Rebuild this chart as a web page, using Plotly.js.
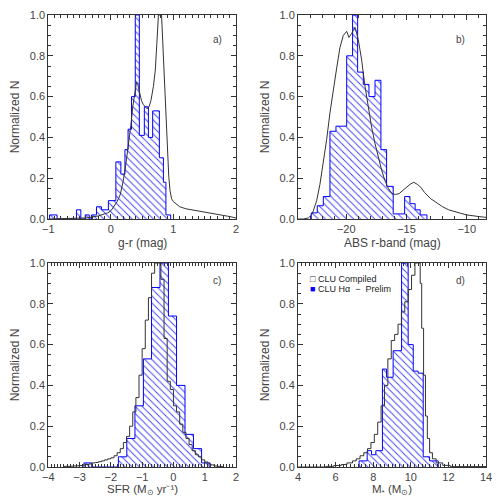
<!DOCTYPE html>
<html>
<head>
<meta charset="utf-8">
<script src="https://cdn.plot.ly/plotly-3.0.1.min.js"></script>
<style>html,body{margin:0;padding:0;background:#fff}#plot{width:500px;height:500px}</style>
</head>
<body>
<div id="plot"></div>
<script>
// ---------- Panel a: g-r ----------
var edgesA   = [-0.98,-0.86,-0.55,-0.48,-0.41,-0.345,-0.31,-0.23,-0.15,-0.04,0.08,0.16,0.225,0.275,0.33,0.39,0.455,0.535,0.60,0.668,0.775,0.84,0.88,0.956];
var heightsA = [0.02,0,0.045,0,0.02,0,0.02,0.06,0.045,0.09,0.28,0.22,0.34,0.44,0.60,1.0,0.41,0.55,0.40,0.53,0.30,0.18,0.02];
var grayAx = [-1.0,-0.6,-0.4,-0.3,-0.2,-0.1,-0.05,0.0,0.05,0.1,0.15,0.2,0.24,0.28,0.32,0.35,0.38,0.41,0.43,0.46,0.49,0.52,0.55,0.58,0.61,0.64,0.68,0.71,0.735,0.76,0.81,0.83,0.85,0.87,0.88,0.90,0.925,0.945,0.97,1.0,1.05,1.1,1.2,1.3,1.4,1.5,1.6,1.7,1.8,1.9,2.0];
var grayAy = [0.0,0.002,0.005,0.01,0.015,0.025,0.03,0.04,0.06,0.085,0.12,0.19,0.27,0.36,0.46,0.55,0.62,0.67,0.66,0.62,0.58,0.56,0.55,0.54,0.55,0.58,0.65,0.73,0.86,1.0,1.0,0.86,0.70,0.58,0.50,0.34,0.21,0.14,0.10,0.085,0.07,0.06,0.05,0.045,0.04,0.035,0.03,0.025,0.02,0.012,0.005];

// ---------- Panel b: ABS r-band ----------
var edgesB   = [-22.9,-22.4,-21.9,-21.35,-20.85,-19.96,-19.47,-19.05,-18.58,-18.11,-17.61,-17.12,-16.65,-16.1,-15.15,-14.71,-14.28,-13.86,-13.3];
var heightsB = [0.03,0.065,0.11,0.43,0.455,0.80,1.0,0.72,0.66,0.60,0.68,0.34,0.16,0.025,0.11,0.075,0.045,0.02];
var grayBx = [-24,-23.56,-23.15,-22.88,-22.73,-22.45,-22.18,-21.9,-21.62,-21.35,-21.07,-20.79,-20.52,-20.24,-19.96,-19.77,-19.55,-19.27,-19.0,-18.72,-18.44,-18.17,-17.89,-17.61,-17.34,-17.06,-16.8,-16.5,-16.2,-15.9,-15.6,-15.3,-15.0,-14.7,-14.4,-14.1,-13.8,-13.5,-13.0,-12.5,-12.0,-11.5,-11.0,-10.5,-10.0,-9.5,-9.0,-8.4];
var grayBy = [0,0,0.005,0.02,0.04,0.09,0.17,0.27,0.39,0.52,0.64,0.74,0.84,0.90,0.92,0.89,0.91,0.94,0.88,0.78,0.65,0.55,0.45,0.37,0.30,0.24,0.19,0.15,0.125,0.12,0.125,0.14,0.155,0.17,0.18,0.17,0.155,0.13,0.10,0.08,0.06,0.045,0.035,0.028,0.02,0.015,0.012,0.008];

// ---------- Panel c: SFR ----------
var edgesC   = [-2.86,-2.61,-1.76,-1.49,-1.23,-0.96,-0.70,-0.43,-0.16,0.10,0.37,0.64,0.90,1.17];
var heightsC = [0.02,0,0.05,0.14,0.30,0.53,0.88,1.0,0.74,0.40,0.16,0.09,0.02];
var grayCx = [-3.5,-3.4,-3.3,-3.2,-3.1,-3.0,-2.9,-2.8,-2.7,-2.6,-2.5,-2.4,-2.3,-2.2,-2.1,-2.0,-1.9,-1.8,-1.7,-1.6,-1.5,-1.4,-1.3,-1.2,-1.1,-1.0,-0.9,-0.8,-0.7,-0.6,-0.5,-0.4,-0.3,-0.2,-0.1,0.0,0.1,0.2,0.3,0.4,0.5,0.6,0.7,0.8,0.9,1.0,1.1,1.2,1.3,1.4,1.5,1.6];
var grayCy = [0.003,0.003,0.004,0.005,0.006,0.007,0.01,0.012,0.015,0.02,0.022,0.026,0.03,0.035,0.04,0.045,0.055,0.07,0.09,0.12,0.15,0.20,0.27,0.34,0.45,0.58,0.72,0.83,0.95,1.0,1.0,0.92,0.63,0.42,0.38,0.30,0.27,0.21,0.17,0.14,0.11,0.08,0.06,0.05,0.035,0.025,0.015,0.01,0.005,0.003,0.002,0];

// ---------- Panel d: stellar mass ----------
var edgesD   = [7.25,7.68,7.91,8.14,8.49,8.71,9.06,9.51,9.86,10.13,10.39,10.66,11.0,11.46];
var heightsD = [0.03,0.08,0.06,0.08,0.48,0.44,0.57,1.0,0.60,0.47,0.46,0.05,0.03];
var grayDx = [4,5.5,5.9,6.3,6.6,6.9,7.1,7.3,7.5,7.7,7.88,8.06,8.24,8.42,8.6,8.78,8.96,9.14,9.32,9.5,9.68,9.86,10.04,10.22,10.5,10.58,10.68,10.78,10.88,11.0,11.15,11.35,11.7,12.1,14];
var grayDy = [0,0.003,0.007,0.012,0.02,0.03,0.04,0.055,0.07,0.09,0.12,0.16,0.22,0.30,0.40,0.53,0.62,0.65,0.70,0.76,0.81,0.87,0.94,1.0,0.9,0.68,0.45,0.25,0.14,0.07,0.04,0.02,0.008,0.002,0];

var seriesNames = ['CLU Compiled', 'CLU H\u03b1  \u2212  Prelim'];
var panelLabels = ['a)', 'b)', 'c)', 'd)'];
var xTitles = ['g-r (mag)', 'ABS r-band (mag)', 'SFR (M<sub>\u2299</sub> yr\u207b\u00b9)', 'M<sub>*</sub> (M<sub>\u2299</sub>)'];

var BLUE = '#0000ff';
var GRAY = '#333333';

function hatched(edges, heights, xa, ya) {
  var x = [edges[0]].concat(edges);
  var y = [0].concat(heights).concat([0]);
  return {
    x: x, y: y, xaxis: xa, yaxis: ya, type: 'scatter', mode: 'lines',
    line: {shape: 'hv', color: BLUE, width: 1},
    fill: 'tozeroy', fillcolor: 'rgba(0,0,0,0)',
    fillpattern: {shape: '\\', fgcolor: '#3a3aff', bgcolor: 'rgba(255,255,255,0)', size: 5, solidity: 0.18},
    showlegend: false, hoverinfo: 'skip'
  };
}
function grayLine(x, y, xa, ya, shape) {
  return {x: x, y: y, xaxis: xa, yaxis: ya, type: 'scatter', mode: 'lines',
    line: {shape: shape, color: GRAY, width: 1}, showlegend: false, hoverinfo: 'skip'};
}

var traces = [
  hatched(edgesA, heightsA, 'x', 'y'),
  grayLine(grayAx, grayAy, 'x', 'y', 'linear'),
  hatched(edgesB, heightsB, 'x2', 'y2'),
  grayLine(grayBx, grayBy, 'x2', 'y2', 'linear'),
  hatched(edgesC, heightsC, 'x3', 'y3'),
  grayLine(grayCx, grayCy, 'x3', 'y3', 'hv'),
  hatched(edgesD, heightsD, 'x4', 'y4'),
  grayLine(grayDx, grayDy, 'x4', 'y4', 'hv')
];

var FAM = 'Liberation Sans, Arial, sans-serif';
var FONT = {family: FAM, size: 11, color: '#444'};
var TFONT = {family: FAM, size: 12, color: '#444'};
var TFONT_B = {family: FAM, size: 11.5, color: '#444'};

function xax(range, dtick, minor, dom, anchor) {
  return {
    domain: dom, anchor: anchor, range: range, dtick: dtick, tick0: 0,
    showgrid: false, zeroline: false, showline: true, linecolor: '#333', linewidth: 1, mirror: 'allticks',
    ticks: 'inside', ticklen: 5, tickcolor: '#333', tickwidth: 1,
    minor: {dtick: minor, ticks: 'inside', ticklen: 3, tickcolor: '#333', tickwidth: 1, showgrid: false},
    tickfont: FONT
  };
}
function yax(dom, anchor) {
  return {
    domain: dom, anchor: anchor, range: [0, 1.0], dtick: 0.2, tick0: 0, tickformat: '.1f',
    showgrid: false, zeroline: false, showline: true, linecolor: '#333', linewidth: 1, mirror: 'allticks',
    ticks: 'inside', ticklen: 5, tickcolor: '#333', tickwidth: 1,
    minor: {dtick: 0.05, ticks: 'inside', ticklen: 3, tickcolor: '#333', tickwidth: 1, showgrid: false},
    tickfont: FONT,
    title: {text: 'Normalized N', font: TFONT, standoff: 7}
  };
}

var colL = [0.0966, 0.472], colR = [0.596, 0.972];
var rowT = [0.562, 0.97], rowB = [0.066, 0.474];

var annFont = {family: FAM, size: 10, color: '#444'};
var legFont = {family: FAM, size: 9, color: '#222'};

function xTitle(i, col, yPaper, anchor, font) {
  return {text: xTitles[i], xref: 'paper', yref: 'paper', x: (col[0] + col[1]) / 2, y: yPaper,
          xanchor: 'center', yanchor: anchor, showarrow: false, font: font};
}

var layout = {
  width: 500, height: 500,
  margin: {l: 0, r: 0, t: 0, b: 0},
  paper_bgcolor: '#fff', plot_bgcolor: '#fff',
  font: FONT,
  showlegend: false,
  xaxis:  xax([-1, 2], 1, 0.1, colL, 'y'),
  yaxis:  yax(rowT, 'x'),
  xaxis2: xax([-24, -8.4], 5, 1, colR, 'y2'),
  yaxis2: yax(rowT, 'x2'),
  xaxis3: xax([-4, 2], 1, 0.1, colL, 'y3'),
  yaxis3: yax(rowB, 'x3'),
  xaxis4: xax([4, 14], 2, 0.2, colR, 'y4'),
  yaxis4: yax(rowB, 'x4'),
  annotations: [
    xTitle(0, colL, 0.514, 'middle', TFONT), xTitle(1, colR, 0.514, 'middle', TFONT),
    xTitle(2, colL, 0.002, 'bottom', TFONT_B), xTitle(3, colR, 0.002, 'bottom', TFONT_B),
    {text: panelLabels[0], xref: 'paper', yref: 'paper', x: 0.434, y: 0.936, showarrow: false, font: annFont},
    {text: panelLabels[1], xref: 'paper', yref: 'paper', x: 0.934, y: 0.936, showarrow: false, font: annFont},
    {text: panelLabels[2], xref: 'paper', yref: 'paper', x: 0.434, y: 0.440, showarrow: false, font: annFont},
    {text: panelLabels[3], xref: 'paper', yref: 'paper', x: 0.934, y: 0.440, showarrow: false, font: annFont},
    {text: '\u25a1 ' + seriesNames[0], xref: 'paper', yref: 'paper', x: 0.616, y: 0.441, xanchor: 'left', yanchor: 'middle', showarrow: false, font: legFont},
    {text: '<span style="color:#0000ff">\u25a0</span> ' + seriesNames[1], xref: 'paper', yref: 'paper', x: 0.616, y: 0.423, xanchor: 'left', yanchor: 'middle', showarrow: false, font: legFont}
  ]
};

Plotly.newPlot('plot', traces, layout, {staticPlot: true, displayModeBar: false});
</script>
</body>
</html>
